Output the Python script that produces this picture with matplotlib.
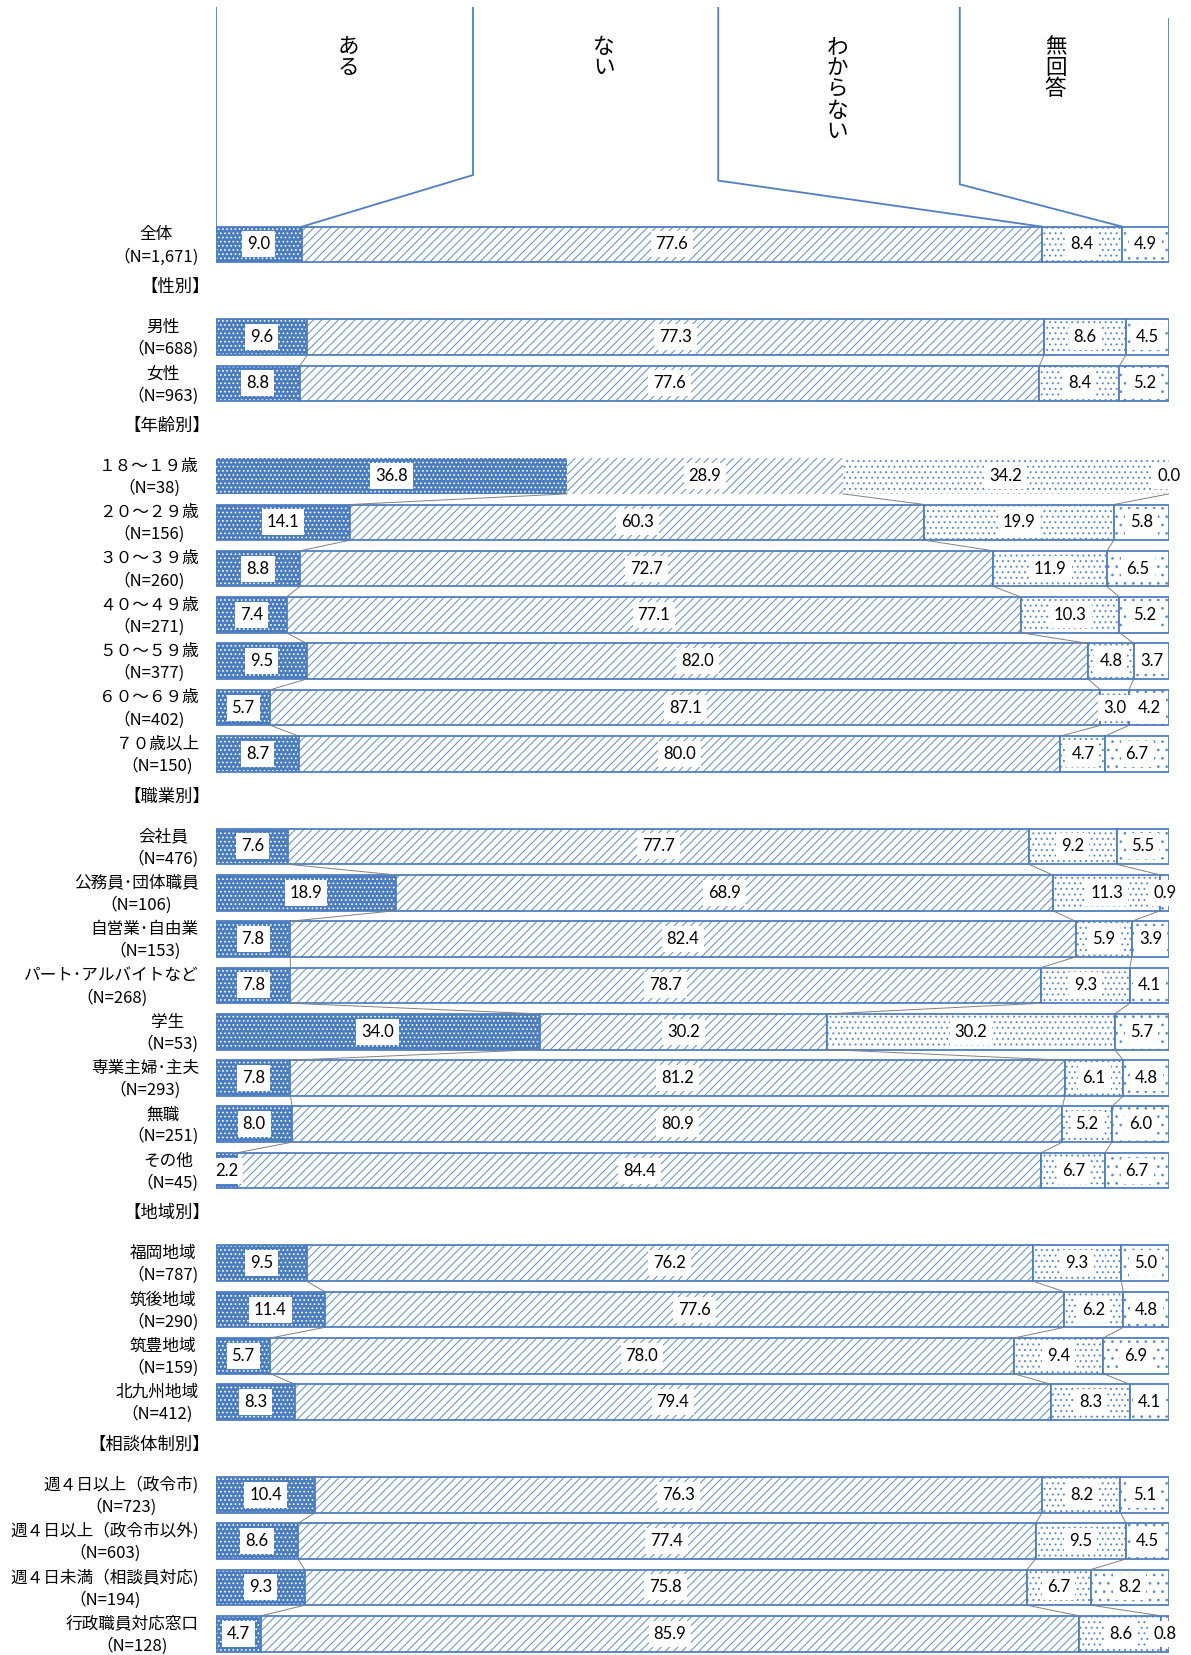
import matplotlib.pyplot as plt
import numpy as np

plt.rcParams['font.family'] = ['Noto Sans CJK JP', 'DejaVu Sans']
plt.rcParams['hatch.linewidth'] = 0.7

# data
series_names = ['ある', 'ない', 'わからない', '無回答']
categories = ['全体', '男性', '女性',
              '１８～１９歳', '２０～２９歳', '３０～３９歳', '４０～４９歳',
              '５０～５９歳', '６０～６９歳', '７０歳以上',
              '会社員', '公務員･団体職員', '自営業･自由業', 'パート･アルバイトなど',
              '学生', '専業主婦･主夫', '無職', 'その他',
              '福岡地域', '筑後地域', '筑豊地域', '北九州地域',
              '週４日以上（政令市)', '週４日以上（政令市以外)',
              '週４日未満（相談員対応)', '行政職員対応窓口']
sample_sizes = ['1,671', '688', '963',
                '38', '156', '260', '271', '377', '402', '150',
                '476', '106', '153', '268', '53', '293', '251', '45',
                '787', '290', '159', '412',
                '723', '603', '194', '128']
aru = [9.0, 9.6, 8.8,
       36.8, 14.1, 8.8, 7.4, 9.5, 5.7, 8.7,
       7.6, 18.9, 7.8, 7.8, 34.0, 7.8, 8.0, 2.2,
       9.5, 11.4, 5.7, 8.3,
       10.4, 8.6, 9.3, 4.7]
nai = [77.6, 77.3, 77.6,
       28.9, 60.3, 72.7, 77.1, 82.0, 87.1, 80.0,
       77.7, 68.9, 82.4, 78.7, 30.2, 81.2, 80.9, 84.4,
       76.2, 77.6, 78.0, 79.4,
       76.3, 77.4, 75.8, 85.9]
wakaranai = [8.4, 8.6, 8.4,
             34.2, 19.9, 11.9, 10.3, 4.8, 3.0, 4.7,
             9.2, 11.3, 5.9, 9.3, 30.2, 6.1, 5.2, 6.7,
             9.3, 6.2, 9.4, 8.3,
             8.2, 9.5, 6.7, 8.6]
mukaitou = [4.9, 4.5, 5.2,
            0.0, 5.8, 6.5, 5.2, 3.7, 4.2, 6.7,
            5.5, 0.9, 3.9, 4.1, 5.7, 4.8, 6.0, 6.7,
            5.0, 4.8, 6.9, 4.1,
            5.1, 4.5, 8.2, 0.8]
sections = ['【性別】', '【年齢別】', '【職業別】', '【地域別】', '【相談体制別】']
section_starts = [1, 3, 10, 18, 22]

# styles
edge_blue = '#4f7fc2'
dot_blue = '#5b8bd0'
styles = [  # facecolor, hatch color, hatch
    ('#4a7cc1', 'white', '....'),
    ('white', dot_blue, '////'),
    ('white', dot_blue, '...'),
    ('white', dot_blue, '..'),
]
bar_h = 0.77

fig = plt.figure(figsize=(11.91, 16.55), dpi=100)
ax = fig.add_axes([216 / 1191, 0, 953 / 1191, 1])
ax.set_xlim(0, 100)
ax.set_ylim(30.46, -5.28)
ax.axis('off')

vals = np.array([aru, nai, wakaranai, mukaitou]).T
share = vals / vals.sum(axis=1, keepdims=True) * 100
cum = np.cumsum(share, axis=1)
left = cum - share

n = len(categories)
slots = np.array([i + sum(s <= i for s in section_starts) for i in range(n)])
no_outline = [3]  # 18-19 row drawn without border in the original

for j, (face, hcol, hatch) in enumerate(styles):
    ax.barh(slots, share[:, j], left=left[:, j], height=bar_h,
            color=face, edgecolor=hcol, hatch=hatch, linewidth=0)
    outlined = [i for i in range(n) if i not in no_outline]
    ax.barh(slots[outlined], share[outlined, j], left=left[outlined, j],
            height=bar_h, fill=False, edgecolor=edge_blue, linewidth=1.3)
    for i in range(n):
        ax.text(left[i, j] + share[i, j] / 2, slots[i], f'{vals[i, j]:.1f}',
                ha='center', va='center', fontsize=12,
                family=['Lato', 'DejaVu Sans'],
                bbox=dict(boxstyle='square,pad=0.3', fc='white', ec='none'))

# series lines between consecutive rows of the same block
block_starts = [0] + section_starts
for i in range(n - 1):
    if (i + 1) in block_starts:
        continue
    for j in range(3):
        ax.plot([cum[i, j], cum[i + 1, j]],
                [slots[i] + bar_h / 2, slots[i + 1] - bar_h / 2],
                color='#808080', lw=0.7)

# category labels
for i in range(n):
    ax.text(-1.8, slots[i] + 0.03, f'{categories[i]}\n（N={sample_sizes[i]})',
            ha='right', va='center', multialignment='center',
            fontsize=12, linespacing=1.35)
for k, name in enumerate(sections):
    ax.text(-0.6, section_starts[k] + k - 0.08, name, ha='right', va='center',
            fontsize=12.5)

# header boxes with leader lines to the first bar
header_edges = [0, 26.97, 52.7, 78.05, 100]
header_top = -5.11
header_bottoms = [-1.50, -1.38, -1.30]
top_bar = slots[0] - bar_h / 2
ax.plot([0, 0], [header_top, top_bar], color=edge_blue, lw=1.3)
ax.plot([100, 100], [-4.87, top_bar], color=edge_blue, lw=1.3)
for k in range(1, 4):
    ax.plot([header_edges[k], header_edges[k], cum[0, k - 1]],
            [header_top, header_bottoms[k - 1], top_bar],
            color=edge_blue, lw=1.3)
label_x = [13.9, 40.7, 65.2, 88.1]
for k, name in enumerate(series_names):
    ax.text(label_x[k], -4.5, '\n'.join(name), ha='center', va='top',
            fontsize=15.5, linespacing=0.95)

fig.savefig('out.png', dpi=100)
